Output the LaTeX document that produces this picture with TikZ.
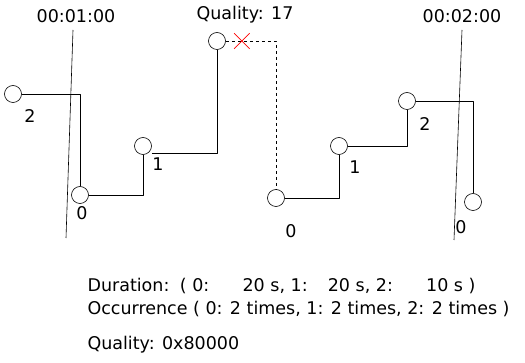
\documentclass[tikz,border=0pt]{standalone}
\usepackage{fontspec}
\setmainfont{DejaVu Sans}
\usetikzlibrary{shapes.misc}

\begin{document}
\begin{tikzpicture}[x=1pt,y=-1pt,
    key/.style={circle,draw,semithick,minimum size=17pt,inner sep=0pt},
    lbl/.style={font=\fontsize{17.5}{20}\selectfont},
    wire/.style={semithick,line join=round}]
            \useasboundingbox[fill=white] (0,0) rectangle (525,363);
            % time marks
            \coordinate (m1top) at (73,30);
            \coordinate (m1bot) at (66,238);
            \coordinate (m2top) at (462,30);
            \coordinate (m2bot) at (454,240);
            \draw[semithick] (m1top) -- (m1bot);
            \draw[semithick] (m2top) -- (m2bot);
            \node[lbl] (m1) at (76,16) {00:01:00};
            \node[lbl] (m2) at (462,16) {00:02:00};
            % key frames
            \node[key] (k2a) at (13,94) {};
            \node[key] (k0a) at (80,195) {};
            \node[key] (k1a) at (143,146) {};
            \node[key] (kq) at (217,41) {};
            \node[key] (k0b) at (276,198) {};
            \node[key] (k1b) at (339,146) {};
            \node[key] (k2b) at (407,101) {};
            \node[key] (k0c) at (473,202) {};
            \draw[wire] (k2a.east) -| (k0a.north);
            \draw[wire] (k0a.east) -| (k1a.south);
            \draw[wire] (k1a.east) ++(0,7) -| (kq.south);
            \draw[wire,dashed] (kq.east) -| (k0b.north)
                node[pos=0.16,cross out,draw=red,solid,semithick,minimum size=15pt,inner sep=0pt] (x) {};
            \draw[wire] (k0b.east) -| (k1b.south);
            \draw[wire] (k1b.east) -| (k2b.south);
            \draw[wire] (k2b.east) -| (k0c.north);
            % indices
            \node[lbl] (l2a) at (30,116) {2};
            \node[lbl] (l0a) at (82,213) {0};
            \node[lbl] (l1a) at (158,164) {1};
            \node[lbl] (lq) at (245,15) {Quality: 17};
            \node[lbl] (l0b) at (291,231) {0};
            \node[lbl] (l1b) at (355,167) {1};
            \node[lbl] (l2b) at (425,124) {2};
            \node[lbl] (l0c) at (461,227) {0};
            % summary
            \node[lbl,anchor=west] (dur) at (84,286) {Duration:\hspace{0.6em}( 0:\hspace{1.9em}20 s, 1:\hspace{1.15em}20 s, 2:\hspace{1.9em}10 s )};
            \node[lbl,anchor=west] (occ) at (84,309) {Occurrence ( 0: 2 times, 1: 2 times, 2: 2 times )};
            \node[lbl,anchor=west] (qual) at (84,345) {Quality: 0x80000};
        \end{tikzpicture}
\end{document}
